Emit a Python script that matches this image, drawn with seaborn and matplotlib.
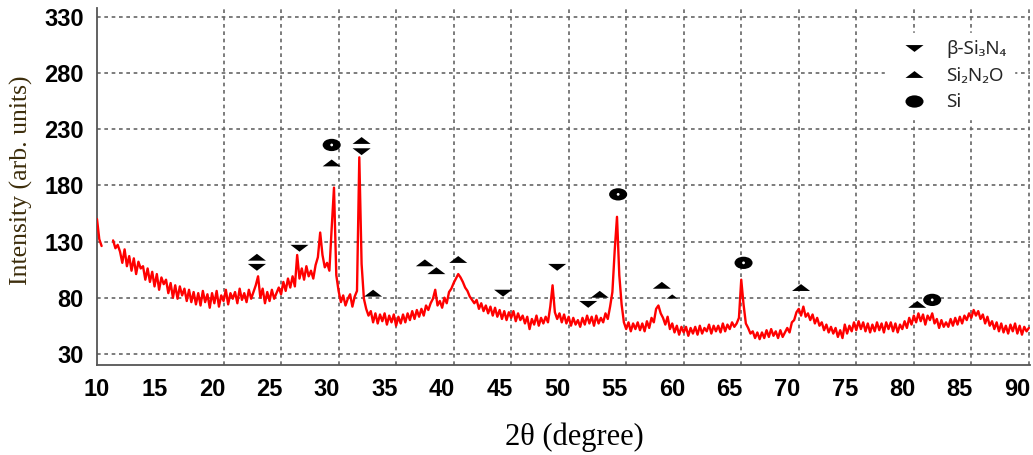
import numpy as np
import pandas as pd
import matplotlib
matplotlib.use("Agg")
import matplotlib.pyplot as plt
from matplotlib.path import Path
from matplotlib.lines import Line2D
from matplotlib.font_manager import FontProperties
import seaborn as sns

# ---------------- data ----------------
theta_start, theta_step = 10.0, 0.2
intensity = [
    150, 132, 126, np.nan, np.nan,      # 10
    np.nan, np.nan, 131, 124, 127,      # 11
    121, 111, 123, 108, 117,            # 12
    104, 115, 101, 112, 106,            # 13
    108, 96, 106, 94, 103,              # 14
    90, 101, 87, 98, 92,                # 15
    96, 84, 93, 80, 91,                 # 16
    79, 90, 82, 88, 77,                 # 17
    87, 76, 85, 74, 84,                 # 18
    73, 86, 76, 83, 71,                 # 19
    84, 75, 86, 72, 82,                 # 20
    77, 87, 74, 84, 79,                 # 21
    85, 75, 88, 78, 84,                 # 22
    76, 87, 79, 85, 91,                 # 23
    99, 80, 88, 75, 85,                 # 24
    77, 87, 79, 84, 89,                 # 25
    83, 94, 86, 97, 89,                 # 26
    99, 90, 118, 97, 106,               # 27
    96, 108, 99, 104, 97,               # 28
    109, 116, 138, 118, 107,            # 29
    111, 104, 142, 178, 100,            # 30
    86, 76, 82, 73, 79,                 # 31
    83, 72, 81, 86, 205,                # 32
    110, 79, 70, 64, 68,                # 33
    58, 66, 57, 65, 59,                 # 34
    66, 56, 64, 58, 65,                 # 35
    55, 63, 57, 65, 58,                 # 36
    66, 60, 68, 61, 69,                 # 37
    63, 70, 64, 73, 69,                 # 38
    75, 79, 87, 73, 77,                 # 39
    71, 80, 75, 85, 88,                 # 40
    93, 97, 101, 98, 94,                # 41
    89, 86, 81, 78, 75,                 # 42
    78, 70, 75, 68, 73,                 # 43
    66, 72, 64, 71, 63,                 # 44
    69, 61, 68, 60, 67,                 # 45
    62, 68, 59, 66, 60,                 # 46
    64, 57, 63, 52, 61,                 # 47
    56, 64, 55, 62, 57,                 # 48
    63, 58, 72, 91, 67,                 # 49
    61, 66, 58, 65, 57,                 # 50
    63, 55, 62, 56, 60,                 # 51
    54, 62, 56, 64, 57,                 # 52
    63, 55, 64, 57, 62,                 # 53
    58, 66, 61, 72, 85,                 # 54
    122, 152, 100, 74, 58,              # 55
    52, 58, 50, 57, 52,                 # 56
    58, 51, 57, 50, 59,                 # 57
    53, 62, 58, 70, 73,                 # 58
    66, 62, 56, 63, 52,                 # 59
    57, 49, 55, 47, 54,                 # 60
    49, 54, 46, 53, 48,                 # 61
    54, 47, 55, 48, 53,                 # 62
    50, 56, 48, 55, 50,                 # 63
    55, 49, 57, 50, 56,                 # 64
    52, 58, 54, 57, 62,                 # 65
    96, 74, 57, 53, 48,                 # 66
    50, 44, 49, 43, 49,                 # 67
    44, 51, 45, 52, 46,                 # 68
    50, 44, 51, 45, 49,                 # 69
    53, 49, 58, 60, 67,                 # 70
    70, 64, 72, 63, 66,                 # 71
    60, 65, 57, 62, 55,                 # 72
    58, 51, 56, 49, 54,                 # 73
    48, 53, 45, 51, 44,                 # 74
    56, 48, 55, 50, 58,                 # 75
    51, 59, 52, 58, 50,                 # 76
    57, 49, 56, 50, 58,                 # 77
    51, 57, 49, 58, 52,                 # 78
    58, 50, 57, 49, 56,                 # 79
    52, 59, 53, 62, 56,                 # 80
    64, 58, 66, 59, 65,                 # 81
    56, 64, 60, 66, 57,                 # 82
    61, 53, 60, 54, 58,                 # 83
    54, 61, 55, 62, 56,                 # 84
    63, 57, 64, 60, 66,                 # 85
    62, 69, 64, 68, 61,                 # 86
    65, 57, 63, 55, 59,                 # 87
    52, 58, 50, 57, 49,                 # 88
    55, 48, 56, 50, 57,                 # 89
    48, 55, 47, 54, 50,                 # 90
    53,                                 # 91
]

beta_si3n4_x = [23.9, 27.6, 33.0, 45.3, 50.0, 52.7]
beta_si3n4_y = [107, 124, 210, 84, 107, 74]
si2n2o_x = [23.9, 30.4, 33.0, 34.0, 38.5, 39.5, 41.4, 53.7, 59.1, 71.2, 81.3]
si2n2o_y = [116, 200, 220, 84, 111, 104, 114, 83, 91, 89, 74]
si2n2o_small_x = [60.0]
si2n2o_small_y = [81]
si_x = [30.4, 55.3, 66.2, 82.6]
si_y = [216, 172, 111, 78]

x_ticks = list(range(10, 91, 5))
y_ticks = list(range(30, 331, 50))
legend_labels = ["β-Si₃N₄", "Si₂N₂O", "Si"]

# ---------------- figure ----------------
sns.set_style("white")
plt.rcParams["font.family"] = ["Liberation Sans", "DejaVu Sans"]

fig = plt.figure(figsize=(10.33, 4.55), dpi=100)
ax = fig.add_axes([0.0939, 0.1978, 0.9032, 0.7846])

y = np.array(intensity, dtype=float)
theta = theta_start + theta_step * np.arange(len(y))
df = pd.DataFrame({"two_theta": theta, "intensity": y,
                   "segment": np.cumsum(np.isnan(y))})
df = df.dropna()

sns.lineplot(data=df, x="two_theta", y="intensity", units="segment",
             estimator=None, color="#ff0000", linewidth=1.7, ax=ax,
             zorder=3)

# marker shapes (flattened triangles and ellipse)
down_tri = Path([(-1.0, 0.38), (1.0, 0.38), (0.0, -0.38), (-1.0, 0.38)],
                [Path.MOVETO, Path.LINETO, Path.LINETO, Path.CLOSEPOLY])
up_tri = Path([(-1.0, -0.38), (1.0, -0.38), (0.0, 0.38), (-1.0, -0.38)],
              [Path.MOVETO, Path.LINETO, Path.LINETO, Path.CLOSEPOLY])
circ = Path.unit_circle()
ellipse = Path(circ.vertices * np.array([1.0, 0.68]), circ.codes)

msize = 13
sns.scatterplot(x=beta_si3n4_x, y=beta_si3n4_y, marker=down_tri, s=msize**2,
                color="black", edgecolor="none", ax=ax, zorder=4)
sns.scatterplot(x=si2n2o_x, y=si2n2o_y, marker=up_tri, s=msize**2,
                color="black", edgecolor="none", ax=ax, zorder=4)
sns.scatterplot(x=si2n2o_small_x, y=si2n2o_small_y, marker=up_tri, s=8**2,
                color="black", edgecolor="none", ax=ax, zorder=4)
sns.scatterplot(x=si_x, y=si_y, marker=ellipse, s=msize**2,
                color="black", edgecolor="none", ax=ax, zorder=4)
sns.scatterplot(x=si_x, y=si_y, marker="o", s=4,
                color="white", edgecolor="none", ax=ax, zorder=5)

# ---------------- axes styling ----------------
ax.set_xlim(10, 91.1)
ax.set_ylim(20, 338)
ax.set_xticks(x_ticks)
ax.set_yticks(y_ticks)

for side in ("top", "right"):
    ax.spines[side].set_visible(False)
for side in ("left", "bottom"):
    ax.spines[side].set_color("#555555")
    ax.spines[side].set_linewidth(1.3)

ax.tick_params(axis="both", direction="inout", length=11, width=1.3,
               color="#555555", labelsize=17, labelcolor="black", pad=4)
for lab in ax.get_xticklabels() + ax.get_yticklabels():
    lab.set_fontweight("bold")
    lab.set_family("Liberation Sans")

grid_kw = dict(color="#666666", linestyle=(0, (2.2, 2.2)), linewidth=1.2,
               zorder=1)
ax.yaxis.grid(True, **grid_kw)
for gx in np.arange(21, 92, 5):
    ax.axvline(gx, **grid_kw)
ax.set_axisbelow(True)

ax.set_xlabel("2θ (degree)", fontsize=22, family="Liberation Serif",
              color="black")
ax.set_ylabel("Intensity (arb. units)", fontsize=18.5,
              family="Liberation Serif", color="#3d2e0c")
ax.xaxis.set_label_coords(0.512, -0.162)
ax.yaxis.set_label_coords(-0.0686, 0.518)

# ---------------- legend ----------------
handles = [
    Line2D([], [], marker=down_tri, markersize=msize, color="black",
           linestyle="none", markeredgewidth=0),
    Line2D([], [], marker=up_tri, markersize=msize, color="black",
           linestyle="none", markeredgewidth=0),
    Line2D([], [], marker=ellipse, markersize=msize, color="black",
           linestyle="none", markeredgewidth=0),
]
leg = ax.legend(handles, legend_labels, loc="upper left",
                bbox_to_anchor=(0.845, 0.93), borderaxespad=0,
                frameon=True, facecolor="white", edgecolor="white",
                framealpha=1, fancybox=False,
                prop=FontProperties(family=["Noto Sans", "DejaVu Sans"],
                                    size=13.5),
                labelspacing=0.45, handlelength=2.3, handletextpad=0.55,
                borderpad=0.4)
leg.set_zorder(6)

fig.savefig("out.png", dpi=100)
